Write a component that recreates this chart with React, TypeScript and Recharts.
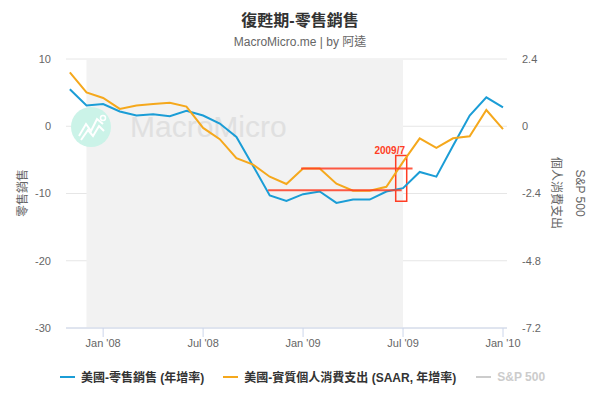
import React from 'react';
import {
  ComposedChart,
  Line,
  XAxis,
  YAxis,
  CartesianGrid,
  ReferenceArea,
  ReferenceLine
} from 'recharts';

// Nov 2007 .. Jan 2010, monthly
const months = [
  '2007-11', '2007-12', '2008-01', '2008-02', '2008-03', '2008-04', '2008-05', '2008-06', '2008-07',
  '2008-08', '2008-09', '2008-10', '2008-11', '2008-12', '2009-01', '2009-02', '2009-03', '2009-04',
  '2009-05', '2009-06', '2009-07', '2009-08', '2009-09', '2009-10', '2009-11', '2009-12', '2010-01'
];

// 美國-零售銷售 (年增率), left axis
const retailSales = [
  5.5, 3.1, 3.3, 2.2, 1.6, 1.8, 1.5, 2.3, 1.6, 0.4, -1.6, -5.9, -10.3, -11.1,
  -10.1, -9.7, -11.4, -10.9, -10.9, -9.7, -9.2, -6.8, -7.5, -2.9, 1.6, 4.3, 2.8
];

// 美國-實質個人消費支出 (SAAR, 年增率), right axis
const realPce = [
  1.92, 1.21, 1.01, 0.62, 0.74, 0.79, 0.84, 0.7, -0.06, -0.46, -1.14, -1.37, -1.8, -2.06,
  -1.51, -1.51, -2.05, -2.3, -2.3, -2.16, -1.27, -0.43, -0.77, -0.43, -0.36, 0.58, -0.1
];

const xTicks = [2, 8, 14, 20, 26];
const xTickLabels: Record<number, string> = { 2: "Jan '08", 8: "Jul '08", 14: "Jan '09", 20: "Jul '09", 26: "Jan '10" };
const leftTicks = [-30, -20, -10, 0, 10];
const rightTicks = [-7.2, -4.8, -2.4, 0, 2.4];

// recession band (Dec 2007 .. Jul 2009) and hand-drawn annotation (month index, left-axis value)
const recession = [1, 20];
const upperMark = { x1: 13.88, x2: 20.57, y: -6.28 };
const lowerMark = { x1: 11.9, x2: 19.92, y: -9.5 };
const markBox = { x1: 19.56, x2: 20.22, y1: -11.15, y2: -4.36 };

const BLUE = '#1b9dd6';
const ORANGE = '#f5a81c';
const RED = '#ff3d24';
const FONT = 'Helvetica, Arial, "Liberation Sans", "Noto Sans CJK TC", sans-serif';

const chartData = months.map((m, i) => ({ idx: i, month: m, retail: retailSales[i], pce: realPce[i] }));

const Watermark = () => (
  <g>
    <circle cx={91} cy={127} r={20} fill="#cbf3e8" />
    <polyline points="79,136 86,124 91,131 97,119 103,124" fill="none" stroke="#fff" strokeWidth={2} />
    <polyline points="81,140 88,130 93,136 99,126 104,131" fill="none" stroke="#fff" strokeWidth={2} />
    <circle cx={103} cy={118} r={2.5} fill="none" stroke="#fff" strokeWidth={1.5} />
    <text x={130} y={137} fontSize={30} fill="#e0e0e0" fontFamily={FONT}>MacroMicro</text>
  </g>
);

const BoxLabel = () => (
  <text x={405} y={154} textAnchor="end" fontSize={10} fontWeight="bold" fill={RED} fontFamily={FONT}>2009/7</text>
);

const legendItems = [
  { name: '美國-零售銷售 (年增率)', color: BLUE, text: '#333', gap: 19 },
  { name: '美國-實質個人消費支出 (SAAR, 年增率)', color: ORANGE, text: '#333', gap: 20 },
  { name: 'S&P 500', color: '#ccc', text: '#ccc', gap: 0 }
];

export default function App() {
  return (
    <div style={{ position: 'absolute', left: 0, top: 0, width: 600, height: 401, fontFamily: FONT, background: '#fff' }}>
      <div style={{ position: 'absolute', top: 7, width: 600, textAlign: 'center', fontSize: 16, fontWeight: 'bold', color: '#333' }}>
        復甦期-零售銷售
      </div>
      <div style={{ position: 'absolute', top: 32, width: 600, textAlign: 'center', fontSize: 12, color: '#666' }}>
        MacroMicro.me | by 阿逵
      </div>

      <ComposedChart width={600} height={401} data={chartData} margin={{ top: 59, right: 0, bottom: 43, left: 0 }}>
        <ReferenceArea yAxisId="left" x1={recession[0]} x2={recession[1]} y1={-30} y2={10} fill="#f2f2f2" fillOpacity={1} stroke="none" label={() => <Watermark />} />
        <CartesianGrid yAxisId="left" vertical={false} stroke="#e6e6e6" />
        <XAxis
          dataKey="idx"
          type="number"
          domain={[-0.23, 26.24]}
          allowDataOverflow
          ticks={xTicks}
          tickFormatter={(v: number) => xTickLabels[v] ?? ''}
          height={30}
          tickSize={9}
          tickMargin={2}
          stroke="#ccd6eb"
          tick={{ fill: '#666', fontSize: 11 }}
        />
        <YAxis
          yAxisId="left"
          width={66}
          domain={[-30, 10]}
          ticks={leftTicks}
          axisLine={false}
          tickLine={false}
          tickMargin={9}
          tick={{ fill: '#666', fontSize: 11 }}
        />
        <YAxis
          yAxisId="right"
          orientation="right"
          width={93}
          domain={[-7.2, 2.4]}
          ticks={rightTicks}
          axisLine={false}
          tickLine={false}
          tickMargin={9}
          tick={{ fill: '#666', fontSize: 11 }}
        />
        <Line yAxisId="left" type="linear" dataKey="retail" stroke={BLUE} strokeWidth={2} dot={false} isAnimationActive={false} />
        <Line yAxisId="right" type="linear" dataKey="pce" stroke={ORANGE} strokeWidth={2} dot={false} isAnimationActive={false} />
        <ReferenceLine yAxisId="left" segment={[{ x: upperMark.x1, y: upperMark.y }, { x: upperMark.x2, y: upperMark.y }]} stroke={RED} strokeWidth={2} strokeOpacity={0.85} />
        <ReferenceLine yAxisId="left" segment={[{ x: lowerMark.x1, y: lowerMark.y }, { x: lowerMark.x2, y: lowerMark.y }]} stroke={RED} strokeWidth={2} strokeOpacity={0.85} />
        <ReferenceArea yAxisId="left" x1={markBox.x1} x2={markBox.x2} y1={markBox.y1} y2={markBox.y2} fill="none" stroke={RED} strokeWidth={1.5} label={() => <BoxLabel />} />
      </ComposedChart>

      <div style={{ position: 'absolute', left: 21, top: 193, transform: 'translate(-50%, -50%) rotate(-90deg)', fontSize: 12, color: '#666', whiteSpace: 'nowrap' }}>
        零售銷售
      </div>
      <div style={{ position: 'absolute', left: 557, top: 193, transform: 'translate(-50%, -50%) rotate(90deg)', fontSize: 12, color: '#666', whiteSpace: 'nowrap' }}>
        個人消費支出
      </div>
      <div style={{ position: 'absolute', left: 580, top: 193, transform: 'translate(-50%, -50%) rotate(90deg)', fontSize: 12, color: '#666', whiteSpace: 'nowrap' }}>
        S&amp;P 500
      </div>

      <div style={{ position: 'absolute', left: 60, top: 368, display: 'flex', alignItems: 'center', fontSize: 12, fontWeight: 'bold', whiteSpace: 'nowrap' }}>
        {legendItems.map((item) => (
          <div key={item.name} style={{ display: 'flex', alignItems: 'center', marginRight: item.gap }}>
            <span style={{ display: 'inline-block', width: 15, height: 2, background: item.color, marginRight: 6 }} />
            <span style={{ color: item.text }}>{item.name}</span>
          </div>
        ))}
      </div>
    </div>
  );
}
